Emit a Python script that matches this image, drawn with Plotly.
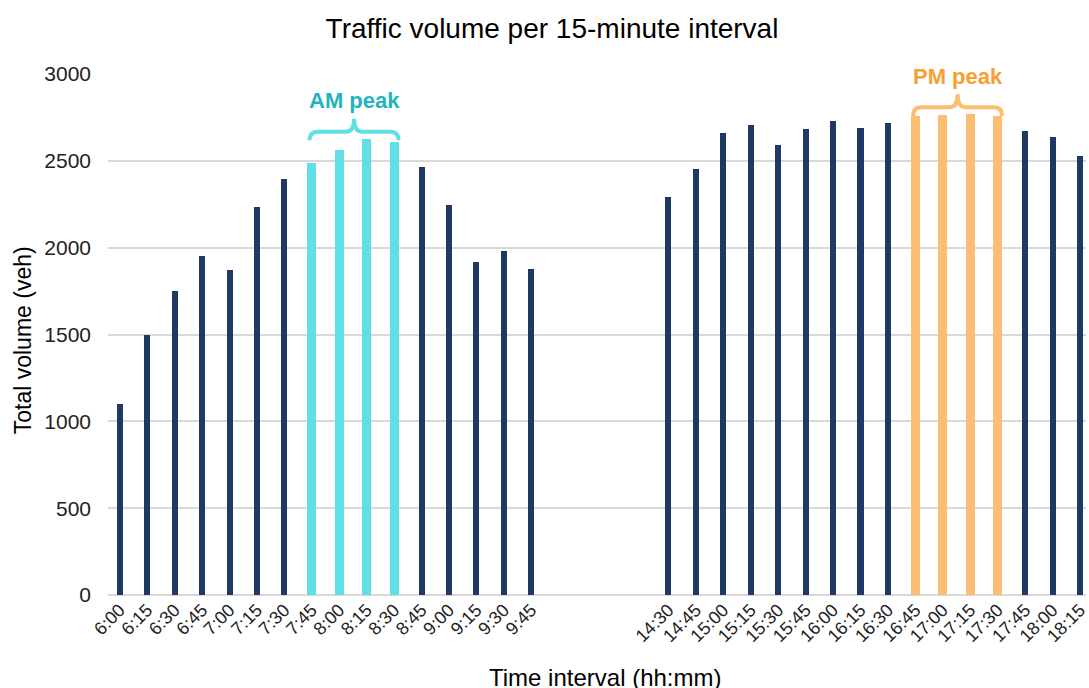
import plotly.graph_objects as go

# ---- data ----
am_labels = ["6:00", "6:15", "6:30", "6:45", "7:00", "7:15", "7:30", "7:45",
             "8:00", "8:15", "8:30", "8:45", "9:00", "9:15", "9:30", "9:45"]
am_values = [1100, 1495, 1748, 1954, 1874, 2233, 2398, 2488,
             2561, 2628, 2610, 2463, 2246, 1920, 1980, 1880]
pm_labels = ["14:30", "14:45", "15:00", "15:15", "15:30", "15:45", "16:00", "16:15",
             "16:30", "16:45", "17:00", "17:15", "17:30", "17:45", "18:00", "18:15"]
pm_values = [2293, 2453, 2658, 2704, 2590, 2684, 2728, 2691,
             2717, 2760, 2763, 2768, 2757, 2670, 2638, 2525]
am_peak = ["7:45", "8:00", "8:15", "8:30"]
pm_peak = ["16:45", "17:00", "17:15", "17:30"]

# ---- style ----
NAVY = "#1F3864"
CYAN_BAR = "#60E0E6"
CYAN_TXT = "#22B4BD"
ORANGE_BAR = "#FBBE72"
ORANGE_TXT = "#F6A033"
GAP = 4  # empty slots between the two periods
W, H = 1089, 688

am_x = list(range(len(am_labels)))
pm_x = [len(am_labels) + GAP + i for i in range(len(pm_labels))]
xs = am_x + pm_x
labels = am_labels + pm_labels
values = am_values + pm_values

colors, widths = [], []
for lab in labels:
    if lab in am_peak:
        colors.append(CYAN_BAR); widths.append(0.33)
    elif lab in pm_peak:
        colors.append(ORANGE_BAR); widths.append(0.33)
    else:
        colors.append(NAVY); widths.append(0.22)

fig = go.Figure(go.Bar(x=xs, y=values, marker=dict(color=colors, line=dict(width=0)),
                       width=widths, hoverinfo="x+y"))

FONT = "Liberation Sans, Arial, sans-serif"


def brace(peak, color, txtcolor, text):
    idx = [labels.index(p) for p in peak]
    px = [xs[i] for i in idx]
    top = max(values[i] for i in idx)
    xl, xr = min(px) - 0.08, max(px) + 0.16
    xm = (xl + xr) / 2
    ye, yh, yt = top - 10, top + 40, top + 115
    r = 0.3
    path = (f"M {xl},{ye} Q {xl},{yh} {xl + r},{yh} L {xm - r},{yh} "
            f"Q {xm},{yh} {xm},{yt} Q {xm},{yh} {xm + r},{yh} "
            f"L {xr - r},{yh} Q {xr},{yh} {xr},{ye}")
    fig.add_shape(type="path", path=path, xref="x", yref="y",
                  line=dict(color=color, width=4), layer="above")
    fig.add_annotation(x=xm, y=top + 220, xref="x", yref="y", text=f"<b>{text}</b>",
                       showarrow=False, font=dict(family=FONT, size=22, color=txtcolor),
                       xanchor="center", yanchor="middle")


brace(am_peak, CYAN_BAR, CYAN_TXT, "AM peak")
brace(pm_peak, ORANGE_BAR, ORANGE_TXT, "PM peak")

fig.add_annotation(x=(23 - 108) / 981, y=(595 - 340) / 521, xref="paper", yref="paper",
                   text="Total volume (veh)", textangle=-90, showarrow=False,
                   xanchor="center", yanchor="middle",
                   font=dict(family=FONT, size=23, color="#000000"))
fig.add_annotation(x=(607 - 108) / 981, y=(595 - 677) / 521, xref="paper", yref="paper",
                   text="Time interval (hh:mm)", showarrow=False,
                   xanchor="center", yanchor="middle",
                   font=dict(family=FONT, size=24, color="#000000"))

fig.update_layout(
    width=W, height=H,
    margin=dict(l=108, r=0, t=74, b=93),
    paper_bgcolor="white", plot_bgcolor="white",
    showlegend=False,
    bargap=0,
    title=dict(text="Traffic volume per 15-minute interval",
               x=552 / W, xanchor="center",
               y=1 - 28 / H, yanchor="middle", xref="container",
               font=dict(family=FONT, size=28, color="#000000")),
    xaxis=dict(range=[-0.43, 35.22], tickmode="array", tickvals=xs, ticktext=labels,
               tickangle=-45, tickfont=dict(family=FONT, size=18, color="#222222"),
               ticklabeloverflow="allow",
               showgrid=False, zeroline=False, showline=False, ticks=""),
    yaxis=dict(range=[0, 3000], dtick=500, tick0=0, showgrid=True, gridcolor="#D9D9D9",
               gridwidth=1.5, zeroline=True, zerolinecolor="#D9D9D9", zerolinewidth=1.5,
               tickfont=dict(family=FONT, size=21, color="#222222"),
               ticklabelstandoff=16, showline=False),
)

fig.write_html(
    "out.html",
    config={"displayModeBar": False},
    post_script="document.body.style.margin='0';document.body.style.overflow='hidden';",
)
